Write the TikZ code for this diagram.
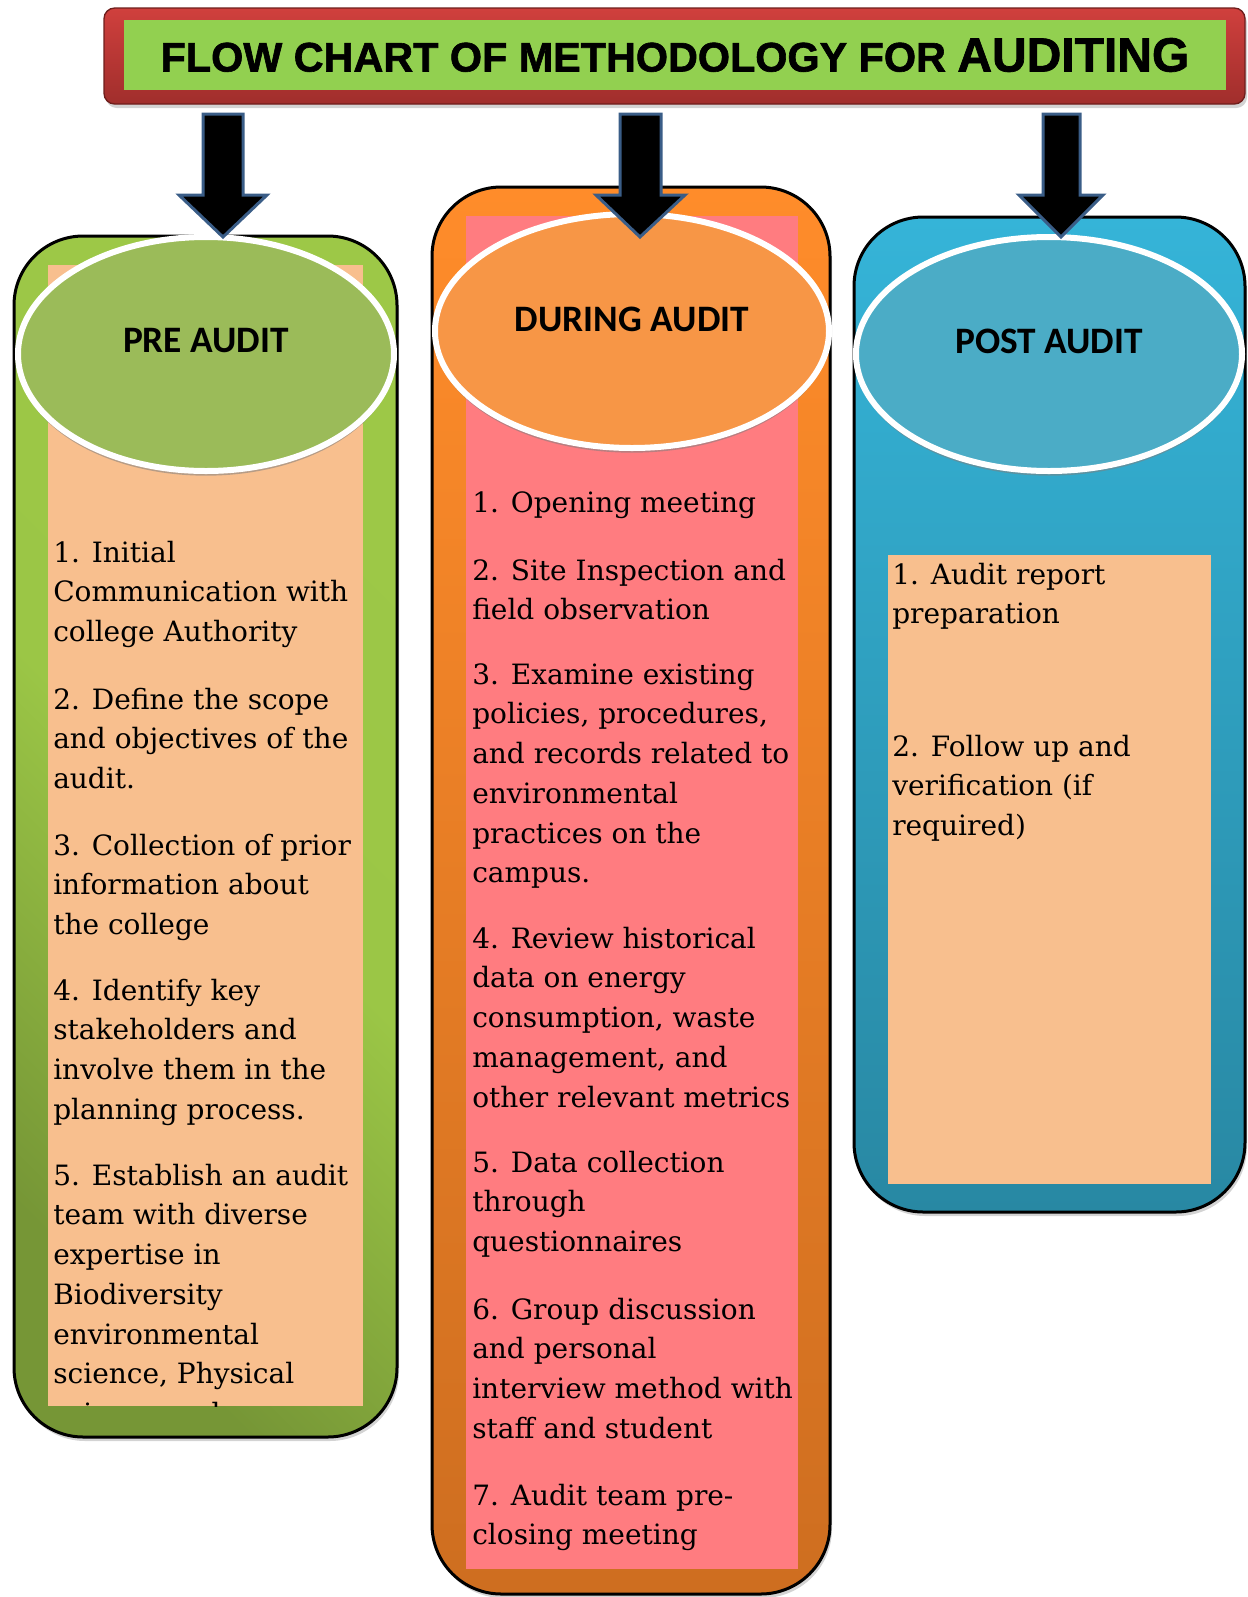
\documentclass[tikz,border=0pt]{standalone}
\usepackage{fontspec}
\setmainfont{DejaVu Serif}
\newfontfamily\headfont{Carlito}
\newfontface\titlefont[FakeBold=1.5]{Liberation Sans Bold}
\usetikzlibrary{shapes.geometric,shadows}

\begin{document}
\begin{tikzpicture}[x=0.75pt,y=0.75pt,yscale=-1,xscale=1,
  column/.style={draw=black, line width=2.25pt, rounded corners=52pt,
    drop shadow={shadow xshift=1.5pt, shadow yshift=-3pt, opacity=0.35}},
  peach/.style={fill={rgb, 255:red, 248; green, 191; blue, 142 }},
  headshape/.style={ellipse, draw=white, line width=4.5pt, minimum height=175.5pt, inner sep=0pt,
    drop shadow={shadow xshift=0pt, shadow yshift=-3.5pt, opacity=0.55}},
  headtext/.style={inner sep=0.75pt, font=\headfont\bfseries\fontsize{28}{32}\selectfont},
  itemtext/.style={anchor=north west, inner sep=0.75pt, align=left, font=\fontsize{21}{29.8}\selectfont},
  blockarrow/.style={fill=black, draw={rgb, 255:red, 58; green, 93; blue, 135 }, line width=2.25pt, line join=miter}
]
\useasboundingbox (0,0) rectangle (1248,1597);

%Rounded Rect: title
\draw [draw={rgb, 255:red, 110; green, 30; blue, 28 }, line width=1pt, rounded corners=8pt,
  top color={rgb, 255:red, 208; green, 64; blue, 61 }, bottom color={rgb, 255:red, 160; green, 46; blue, 44 },
  drop shadow={shadow xshift=1.5pt, shadow yshift=-3pt, opacity=0.35}] (104,8) rectangle (1245,104) ;
%Shape: Rectangle
\fill [color={rgb, 255:red, 146; green, 208; blue, 80 }] (124,20) rectangle (1226,90) ;
% Text Node
\node [inner sep=0.75pt, font=\titlefont\fontsize{31}{36}\selectfont] (title) at (675,55)
  {FLOW CHART OF METHODOLOGY FOR {\fontsize{36}{40}\selectfont AUDITING}};

%Rounded Rect: pre audit column
\draw [column, top color={rgb, 255:red, 157; green, 200; blue, 71 }, bottom color={rgb, 255:red, 118; green, 150; blue, 54 },
  middle color={rgb, 255:red, 155; green, 198; blue, 70 }, shading angle=-45] (14,236) rectangle (397,1437) ;
%Rounded Rect: during audit column
\draw [column, top color={rgb, 255:red, 255; green, 140; blue, 42 }, bottom color={rgb, 255:red, 206; green, 110; blue, 32 }] (432,187) rectangle (830,1594) ;
%Rounded Rect: post audit column
\draw [column, top color={rgb, 255:red, 53; green, 180; blue, 216 }, bottom color={rgb, 255:red, 40; green, 136; blue, 163 }] (854,217) rectangle (1245,1212) ;

%Shape: Rectangle
\fill [peach] (48,265) rectangle (363,1406) ;
\fill [color={rgb, 255:red, 255; green, 124; blue, 128 }] (466,216) rectangle (798,1569) ;
\fill [peach] (888,555) rectangle (1211,1184) ;

%Shape: Ellipse
\node [headshape, minimum width=282pt, fill={rgb, 255:red, 155; green, 187; blue, 89 }] (preHead) at (206,354) {};
\node [headshape, minimum width=295.5pt, fill={rgb, 255:red, 247; green, 150; blue, 70 }] (duringHead) at (632,331) {};
\node [headshape, minimum width=289.5pt, fill={rgb, 255:red, 75; green, 172; blue, 198 }] (postHead) at (1049,354) {};

% Text Node
\node [headtext] (preLabel) at (206,341) {PRE AUDIT};
% Text Node
\node [headtext] (duringLabel) at (632,319) {DURING AUDIT};
% Text Node
\node [headtext] (postLabel) at (1049,341) {POST AUDIT};

% Text Node
\node [itemtext] (pre1) at (52,533) {\strut1. Initial\\Communication with\\college Authority};
\node [itemtext] (pre2) at (52,680) {\strut2. Define the scope\\and objectives of the\\audit.};
\node [itemtext] (pre3) at (52,826) {\strut3. Collection of prior\\information about\\the college};
\node [itemtext] (pre4) at (52,971) {\strut4. Identify key\\stakeholders and\\involve them in the\\planning process.};
\begin{scope}
\clip (48,265) rectangle (363,1406) ;
\node [itemtext] (pre5) at (52,1156) {\strut5. Establish an audit\\team with diverse\\expertise in\\Biodiversity\\environmental\\science, Physical\\science and};
\end{scope}

% Text Node
\node [itemtext] (during1) at (471,483) {\strut1. Opening meeting};
\node [itemtext] (during2) at (471,551) {\strut2. Site Inspection and\\field observation};
\node [itemtext] (during3) at (471,655) {\strut3. Examine existing\\policies, procedures,\\and records related to\\environmental\\practices on the\\campus.};
\node [itemtext] (during4) at (471,919) {\strut4. Review historical\\data on energy\\consumption, waste\\management, and\\other relevant metrics};
\node [itemtext] (during5) at (471,1143) {\strut5. Data collection\\through\\questionnaires};
\node [itemtext] (during6) at (471,1290) {\strut6. Group discussion\\and personal\\interview method with\\staff and student};
\node [itemtext] (during7) at (471,1476) {\strut7. Audit team pre-\\closing meeting};

% Text Node
\node [itemtext] (post1) at (891,555) {\strut1. Audit report\\preparation};
\node [itemtext] (post2) at (891,727) {\strut2. Follow up and\\verification (if\\required)};

%Block Arrows
\draw [blockarrow] (203,114) -- (243,114) -- (243,195) -- (267,195) -- (223,237) -- (179,195) -- (203,195) -- cycle ;
\draw [blockarrow] (620,114) -- (661,114) -- (661,195) -- (685,195) -- (640,237) -- (596,195) -- (620,195) -- cycle ;
\draw [blockarrow] (1043,114) -- (1080,114) -- (1080,195) -- (1103,195) -- (1061,237) -- (1019,195) -- (1043,195) -- cycle ;
\end{tikzpicture}
\end{document}
